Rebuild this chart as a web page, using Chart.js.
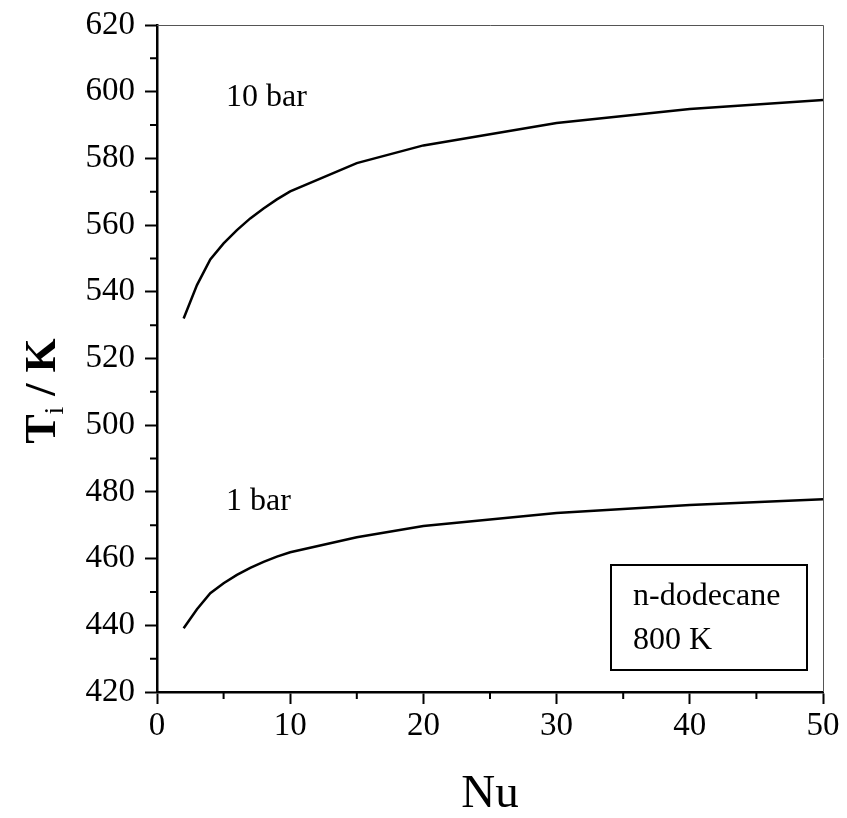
<!DOCTYPE html>
<html>
<head>
<meta charset="utf-8">
<script src="https://cdn.jsdelivr.net/npm/chart.js@4.4.1/dist/chart.umd.min.js"></script>
<style>
  html, body { margin: 0; padding: 0; background: #fff; }
  #wrap { width: 847px; height: 818px; }
</style>
</head>
<body>
<div id="wrap"><canvas id="chart" width="847" height="818"></canvas></div>
<script>
// Nu values where the curves were computed
const nu = [2, 3, 4, 5, 6, 7, 8, 9, 10, 15, 20, 30, 40, 50];
// interface temperature, 10 bar and 1 bar
const t10bar = [532, 542, 549.7, 554.5, 558.5, 562, 565, 567.7, 570.1, 578.6, 583.9, 590.6, 594.8, 597.5];
const t1bar = [439.1, 444.8, 449.6, 452.6, 455.1, 457.2, 459, 460.6, 461.9, 466.4, 469.8, 473.7, 476.1, 477.8];

const xTicks = [0, 10, 20, 30, 40, 50];
const yTicks = [420, 440, 460, 480, 500, 520, 540, 560, 580, 600, 620];
const xMinor = [5, 15, 25, 35, 45];
const yMinor = [430, 450, 470, 490, 510, 530, 550, 570, 590, 610];

const serif = "'Liberation Serif', 'Times New Roman', serif";

const toPoints = (xs, ys) => xs.map((x, i) => ({ x: x, y: ys[i] }));

// frame, minor ticks, annotations and y title
const extras = {
  id: 'extras',
  afterDraw(chart) {
    const { ctx, chartArea: { left, right, top, bottom } } = chart;
    const xs = chart.scales.x, ys = chart.scales.y;
    ctx.save();
    // thin top/right border
    ctx.strokeStyle = '#555';
    ctx.lineWidth = 1;
    ctx.beginPath();
    ctx.moveTo(left, top + 0.5);
    ctx.lineTo(right + 0.5, top + 0.5);
    ctx.lineTo(right + 0.5, bottom);
    ctx.stroke();
    // minor ticks
    ctx.strokeStyle = '#000';
    ctx.lineWidth = 2;
    ctx.beginPath();
    xMinor.forEach(v => {
      const px = xs.getPixelForValue(v);
      ctx.moveTo(px, bottom);
      ctx.lineTo(px, bottom + 7);
    });
    yMinor.forEach(v => {
      const py = ys.getPixelForValue(v);
      ctx.moveTo(left, py);
      ctx.lineTo(left - 7, py);
    });
    ctx.stroke();

    // curve labels
    ctx.fillStyle = '#000';
    ctx.font = '32px ' + serif;
    ctx.textBaseline = 'middle';
    ctx.textAlign = 'left';
    ctx.fillText('10 bar', 226, 98);
    ctx.fillText('1 bar', 226, 502);

    // legend box
    ctx.lineWidth = 2;
    ctx.strokeRect(611, 565, 196, 105);
    ctx.fillText('n-dodecane', 633, 597);
    ctx.fillText('800 K', 633, 641);

    // y title with subscript
    ctx.translate(40, 391);
    ctx.rotate(-Math.PI / 2);
    ctx.textBaseline = 'alphabetic';
    const parts = [['T', 'bold 44px ', 0], ['i', '28px ', 8], [' / K', 'bold 44px ', 0]];
    let w = 0;
    parts.forEach(p => { ctx.font = p[1] + serif; w += ctx.measureText(p[0]).width; });
    let cx = -w / 2;
    parts.forEach(p => {
      ctx.font = p[1] + serif;
      ctx.fillText(p[0], cx, 15 + p[2]);
      cx += ctx.measureText(p[0]).width;
    });
    ctx.restore();
  }
};

new Chart(document.getElementById('chart'), {
  type: 'line',
  data: {
    datasets: [
      { label: '10 bar', data: toPoints(nu, t10bar) },
      { label: '1 bar', data: toPoints(nu, t1bar) }
    ]
  },
  options: {
    responsive: false,
    animation: false,
    events: [],
    layout: { padding: { top: 25, right: 24, left: 0, bottom: 0 } },
    elements: {
      line: { borderColor: '#000', borderWidth: 2.5, tension: 0, fill: false },
      point: { radius: 0 }
    },
    plugins: { legend: { display: false }, tooltip: { enabled: false } },
    scales: {
      x: {
        type: 'linear',
        min: 0, max: 50,
        afterBuildTicks: s => { s.ticks = xTicks.map(v => ({ value: v })); },
        afterFit: s => { s.height = 126; s.paddingLeft = 0; s.paddingRight = 0; },
        border: { display: true, color: '#000', width: 2.5 },
        grid: { drawOnChartArea: false, drawTicks: true, tickLength: 12, tickColor: '#000', tickWidth: 2 },
        ticks: { color: '#000', font: { family: serif, size: 33 }, padding: 3, maxRotation: 0 },
        title: { display: true, text: 'Nu', color: '#000', font: { family: serif, size: 47, lineHeight: 1 }, padding: { top: 0, bottom: 0 } }
      },
      y: {
        type: 'linear',
        min: 420, max: 620,
        afterBuildTicks: s => { s.ticks = yTicks.map(v => ({ value: v })); },
        afterFit: s => { s.width = 157; s.paddingTop = 0; s.paddingBottom = 0; },
        border: { display: true, color: '#000', width: 2.5 },
        grid: { drawOnChartArea: false, drawTicks: true, tickLength: 12, tickColor: '#000', tickWidth: 2 },
        ticks: { color: '#000', font: { family: serif, size: 33 }, padding: 10 }
      }
    }
  },
  plugins: [extras]
});
</script>
</body>
</html>
